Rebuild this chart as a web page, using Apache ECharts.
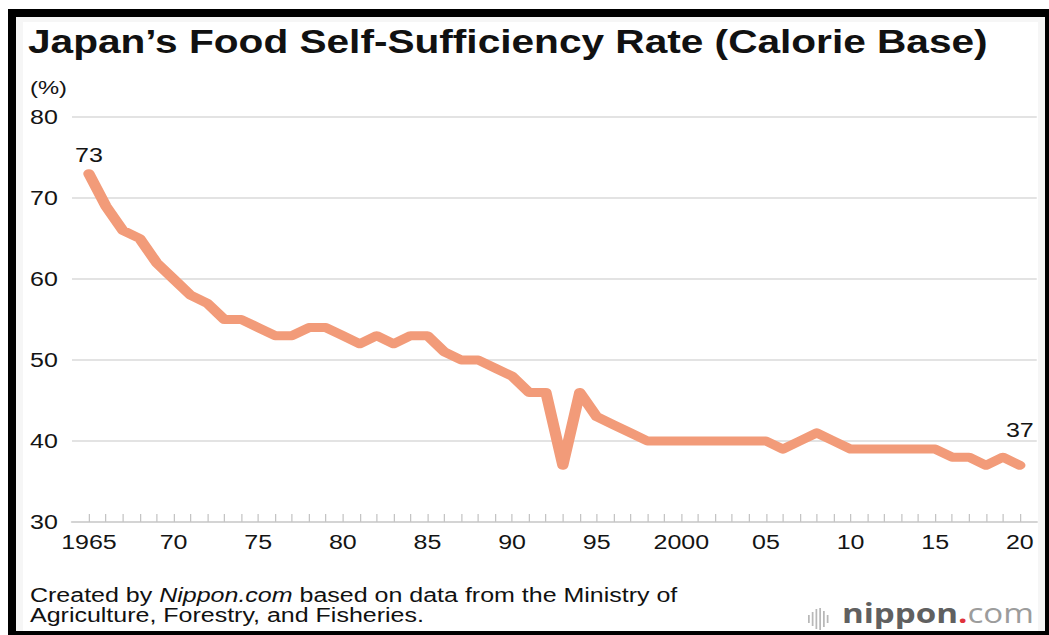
<!DOCTYPE html>
<html>
<head>
<meta charset="utf-8">
<title>Japan's Food Self-Sufficiency Rate</title>
<script src="https://cdn.jsdelivr.net/npm/echarts@6/dist/echarts.min.js"></script>
<style>
  html, body { margin: 0; padding: 0; background: #ffffff; overflow: hidden; }
  /* The chart is laid out on a narrower canvas and widened by STRETCH */
  #chart {
    position: absolute; left: 0; top: 0; width: 839.2px; height: 635px;
    transform: scaleX(1.25); transform-origin: 0 0;
  }
  #frame {
    position: absolute; left: 8px; top: 9px; width: 1041px; height: 626px;
    box-sizing: border-box; pointer-events: none;
    border-left: 8px solid #000; border-top: 8px solid #000;
    border-right: 4px solid #000; border-bottom: 4px solid #000;
    box-shadow: inset 7px 5px 0 0 #f6f6f6, inset -7px 0 0 0 #f6f6f6;
  }
</style>
</head>
<body>
<div id="chart"></div>
<div id="frame"></div>
<script>
// Calorie-based food self-sufficiency rate, fiscal years 1965-2020 (%)
const years = [
  1965, 1966, 1967, 1968, 1969, 1970, 1971, 1972, 1973, 1974,
  1975, 1976, 1977, 1978, 1979, 1980, 1981, 1982, 1983, 1984,
  1985, 1986, 1987, 1988, 1989, 1990, 1991, 1992, 1993, 1994,
  1995, 1996, 1997, 1998, 1999, 2000, 2001, 2002, 2003, 2004,
  2005, 2006, 2007, 2008, 2009, 2010, 2011, 2012, 2013, 2014,
  2015, 2016, 2017, 2018, 2019, 2020
];
const rates = [
  73, 69, 66, 65, 62, 60, 58, 57, 55, 55,
  54, 53, 53, 54, 54, 53, 52, 53, 52, 53,
  53, 51, 50, 50, 49, 48, 46, 46, 37, 46,
  43, 42, 41, 40, 40, 40, 40, 40, 40, 40,
  40, 39, 40, 41, 40, 39, 39, 39, 39, 39,
  39, 38, 38, 37, 38, 37
];
// Years that carry a label on the horizontal axis
const labelYears = [1965, 1970, 1975, 1980, 1985, 1990, 1995, 2000, 2005, 2010, 2015, 2020];
const yTicks = [30, 40, 50, 60, 70, 80];

const STRETCH = 1.25;               // horizontal widening applied by CSS
const sx = v => v / STRETCH;        // page x -> layout x

const LINE_COLOR = '#f29b79';
const TEXT_COLOR = '#141414';
const FONT = '"Liberation Sans", Arial, Helvetica, sans-serif';

function yearLabel(v) {
  const y = Math.round(v);
  if (y === 1965 || y === 2000) return String(y);
  return String(y % 100).padStart(2, '0');
}

// Series points; the first and last values are written on the chart
const points = years.map((y, i) => {
  const item = { value: [y, rates[i]] };
  if (i === 0) item.label = { show: true, distance: 8 };
  if (i === years.length - 1) item.label = { show: true, distance: 25 };
  return item;
});

const chart = echarts.init(document.getElementById('chart'), null, { renderer: 'svg' });

chart.setOption({
  backgroundColor: '#ffffff',
  animation: false,
  title: [
    {
      text: 'Japan’s Food Self-Sufficiency Rate (Calorie Base)',
      left: sx(28), top: 25, padding: 0,
      textStyle: { fontFamily: FONT, fontSize: 32.5, fontWeight: 'bold', color: '#111' }
    },
    {
      text: '{n|Created by }{i|Nippon.com}{n| based on data from the Ministry of}\n{n|Agriculture, Forestry, and Fisheries.}',
      left: sx(30), top: 585, padding: 0,
      textStyle: {
        rich: {
          n: { fontFamily: FONT, fontSize: 20, fontWeight: 'normal', color: '#111', lineHeight: 20 },
          i: { fontFamily: FONT, fontSize: 20, fontWeight: 'normal', color: '#111', fontStyle: 'italic', lineHeight: 20 }
        }
      }
    }
  ],
  graphic: [
    {
      type: 'text', left: sx(30), top: 78,
      style: { text: '(%)', fontFamily: FONT, fontSize: 19, fill: TEXT_COLOR }
    },
    {
      type: 'group', left: sx(808), top: 599,
      children: [
        { type: 'rect', shape: { x: 0, y: 7, width: 1.4, height: 8 }, style: { fill: '#b8b8b8' } },
        { type: 'rect', shape: { x: 3, y: 4, width: 1.4, height: 14 }, style: { fill: '#b8b8b8' } },
        { type: 'rect', shape: { x: 6, y: 1, width: 1.4, height: 20 }, style: { fill: '#b8b8b8' } },
        { type: 'rect', shape: { x: 9, y: 0, width: 1.4, height: 22 }, style: { fill: '#b8b8b8' } },
        { type: 'rect', shape: { x: 12, y: 3, width: 1.4, height: 16 }, style: { fill: '#b8b8b8' } },
        { type: 'rect', shape: { x: 15, y: 7, width: 1.4, height: 8 }, style: { fill: '#b8b8b8' } },
        {
          type: 'text', x: sx(842 - 808), y: -9,
          style: {
            text: '{a|nippon}{b|.}{c|com}',
            rich: {
              a: { fontFamily: '"Open Sans", sans-serif', fontSize: 26.5, fontWeight: 'bold', fill: '#606060' },
              b: { fontFamily: '"Open Sans", sans-serif', fontSize: 26.5, fontWeight: 'bold', fill: '#e0323c' },
              c: { fontFamily: '"Open Sans", sans-serif', fontSize: 26.5, fontWeight: 'normal', fill: '#9c9c9c' }
            }
          }
        }
      ]
    }
  ],
  grid: { left: sx(72), right: sx(12), top: 117, bottom: 113, containLabel: false },
  xAxis: {
    type: 'value',
    min: 1964, max: 2021,
    axisLine: { show: true, lineStyle: { color: '#d4d4d4', width: 2 } },
    axisTick: {
      show: true, inside: true, length: 8,
      customValues: years,
      lineStyle: { color: '#c4c4c4', width: 1 }
    },
    axisLabel: {
      customValues: labelYears,
      formatter: yearLabel,
      margin: 10,
      fontFamily: FONT, fontSize: 20, color: TEXT_COLOR
    },
    splitLine: { show: false }
  },
  yAxis: {
    type: 'value',
    min: 30, max: 80, interval: 10,
    axisLine: { show: false },
    axisTick: { show: false },
    axisLabel: {
      customValues: yTicks,
      align: 'left', margin: sx(72 - 30),
      fontFamily: FONT, fontSize: 20, color: TEXT_COLOR
    },
    splitLine: { show: true, lineStyle: { color: '#dadada', width: 1.5 } }
  },
  series: [
    {
      type: 'line',
      data: points,
      showSymbol: true,
      symbol: 'circle',
      symbolSize: 0.1,
      itemStyle: { color: LINE_COLOR },
      lineStyle: { color: LINE_COLOR, width: 9, cap: 'round', join: 'round' },
      label: {
        show: false,
        position: 'top',
        fontFamily: FONT, fontSize: 20, color: TEXT_COLOR,
        formatter: p => String(p.value[1])
      },
      emphasis: { disabled: true }
    }
  ]
});
</script>
</body>
</html>
